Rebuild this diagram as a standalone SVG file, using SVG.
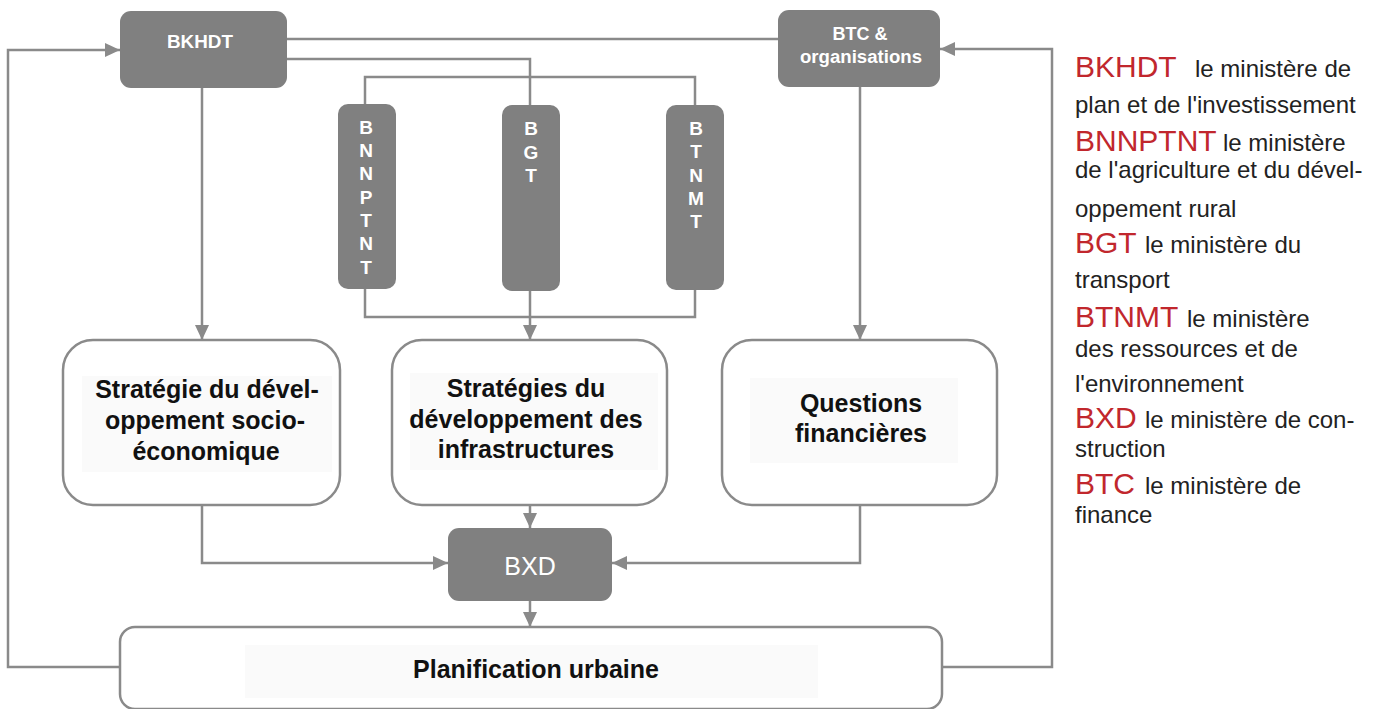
<svg xmlns="http://www.w3.org/2000/svg" width="1378" height="709" viewBox="0 0 1378 709">
<style>
.dark{fill:#808080;}
.wbox{fill:#ffffff;stroke:#8a8a8a;stroke-width:2.5;}
.halo{fill:#fafafa;}
.ln{fill:none;stroke:#8a8a8a;stroke-width:2.5;}
.wt{font-family:"Liberation Sans",Arial,sans-serif;fill:#ffffff;font-weight:bold;text-anchor:middle;}
.bt{font-family:"Liberation Sans",Arial,sans-serif;fill:#111111;font-weight:bold;font-size:25px;text-anchor:middle;}
.red{font-family:"Liberation Sans",Arial,sans-serif;fill:#c1272d;font-size:30px;}
.blk{font-family:"Liberation Sans",Arial,sans-serif;fill:#222222;font-size:24px;}
</style>
<defs>
<marker id="arr" markerWidth="15" markerHeight="14" refX="15" refY="7" orient="auto" markerUnits="userSpaceOnUse">
<path d="M0,0 L15,7 L0,14 Z" fill="#8a8a8a"/>
</marker>
</defs>
<rect width="1378" height="709" fill="#ffffff"/>

<g id="connectors">
<path class="ln" d="M287,39 L778,39"/>
<path class="ln" d="M287,59 L530,59 L530,105"/>
<path class="ln" d="M365,104 L365,77 L695,77 L695,105"/>
<path class="ln" d="M365,289 L365,317 L695,317 L695,290"/>
<path class="ln" d="M530,291 L530,340" marker-end="url(#arr)"/>
<path class="ln" d="M202,88 L202,340" marker-end="url(#arr)"/>
<path class="ln" d="M860,87 L860,340" marker-end="url(#arr)"/>
<path class="ln" d="M120,667 L8,667 L8,50 L120,50" marker-end="url(#arr)"/>
<path class="ln" d="M942,667 L1052,667 L1052,49 L940,49" marker-end="url(#arr)"/>
<path class="ln" d="M202,505 L202,563 L448,563" marker-end="url(#arr)"/>
<path class="ln" d="M860,505 L860,563 L612,563" marker-end="url(#arr)"/>
<path class="ln" d="M530,505 L530,528" marker-end="url(#arr)"/>
<path class="ln" d="M530,601 L530,627" marker-end="url(#arr)"/>
</g>

<g id="bkhdt">
<rect class="dark" x="120" y="11" width="167" height="77" rx="11"/>
<text class="wt" x="200" y="48" font-size="18" textLength="66" lengthAdjust="spacingAndGlyphs">BKHDT</text>
</g>

<g id="btc">
<rect class="dark" x="778" y="10" width="162" height="77" rx="11"/>
<text class="wt" x="860" y="40" font-size="18">BTC &amp;</text>
<text class="wt" x="861" y="63" font-size="18" textLength="122" lengthAdjust="spacingAndGlyphs">organisations</text>
</g>

<g id="bnnptnt">
<rect class="dark" x="338" y="104" width="58" height="185" rx="10"/>
<text class="wt" font-size="19">
<tspan x="366" y="134">B</tspan><tspan x="366" y="157">N</tspan><tspan x="366" y="180">N</tspan><tspan x="366" y="204">P</tspan><tspan x="366" y="227">T</tspan><tspan x="366" y="250">N</tspan><tspan x="366" y="274">T</tspan>
</text>
</g>

<g id="bgt">
<rect class="dark" x="502" y="105" width="58" height="186" rx="10"/>
<text class="wt" font-size="19">
<tspan x="531" y="135">B</tspan><tspan x="531" y="159">G</tspan><tspan x="531" y="182">T</tspan>
</text>
</g>

<g id="btnmt">
<rect class="dark" x="666" y="105" width="58" height="185" rx="10"/>
<text class="wt" font-size="19">
<tspan x="696" y="135">B</tspan><tspan x="696" y="158">T</tspan><tspan x="696" y="182">N</tspan><tspan x="696" y="205">M</tspan><tspan x="696" y="228">T</tspan>
</text>
</g>

<g id="strategie-socio">
<rect class="wbox" x="63" y="340" width="277" height="165" rx="30"/>
<rect class="halo" x="82" y="376" width="250" height="96"/>
<text class="bt" x="207" y="398">Stratégie du dével-</text>
<text class="bt" x="205" y="429">oppement socio-</text>
<text class="bt" x="206" y="460">économique</text>
</g>

<g id="strategies-infra">
<rect class="wbox" x="392" y="340" width="275" height="165" rx="30"/>
<rect class="halo" x="410" y="373" width="248" height="97"/>
<text class="bt" x="526" y="397">Stratégies du</text>
<text class="bt" x="526" y="428">développement des</text>
<text class="bt" x="526" y="458">infrastructures</text>
</g>

<g id="questions">
<rect class="wbox" x="722" y="340" width="275" height="165" rx="30"/>
<rect class="halo" x="750" y="378" width="208" height="85"/>
<text class="bt" x="861" y="412">Questions</text>
<text class="bt" x="861" y="442">financières</text>
</g>

<g id="bxd">
<rect class="dark" x="448" y="528" width="164" height="73" rx="11"/>
<text x="530" y="575" font-family="Liberation Sans, Arial, sans-serif" font-size="25" fill="#ffffff" text-anchor="middle">BXD</text>
</g>

<g id="planification">
<rect class="wbox" x="120" y="627" width="822" height="82" rx="15"/>
<rect class="halo" x="245" y="645" width="573" height="53"/>
<text class="bt" x="536" y="678">Planification urbaine</text>
</g>

<g id="legend">
<text class="red" x="1075" y="77">BKHDT</text>
<text class="blk" x="1195" y="77">le ministère de</text>
<text class="blk" x="1075" y="113">plan et de l'investissement</text>
<text class="red" x="1075" y="151">BNNPTNT</text>
<text class="blk" x="1223" y="151">le ministère</text>
<text class="blk" x="1075" y="178">de l'agriculture et du dével-</text>
<text class="blk" x="1075" y="217">oppement rural</text>
<text class="red" x="1075" y="253">BGT</text>
<text class="blk" x="1145" y="253">le ministère du</text>
<text class="blk" x="1075" y="288">transport</text>
<text class="red" x="1075" y="327">BTNMT</text>
<text class="blk" x="1187" y="327">le ministère</text>
<text class="blk" x="1075" y="357">des ressources et de</text>
<text class="blk" x="1075" y="392">l'environnement</text>
<text class="red" x="1075" y="428">BXD</text>
<text class="blk" x="1145" y="428">le ministère de con-</text>
<text class="blk" x="1075" y="457">struction</text>
<text class="red" x="1075" y="494">BTC</text>
<text class="blk" x="1145" y="494">le ministère de</text>
<text class="blk" x="1075" y="523">finance</text>
</g>
</svg>
